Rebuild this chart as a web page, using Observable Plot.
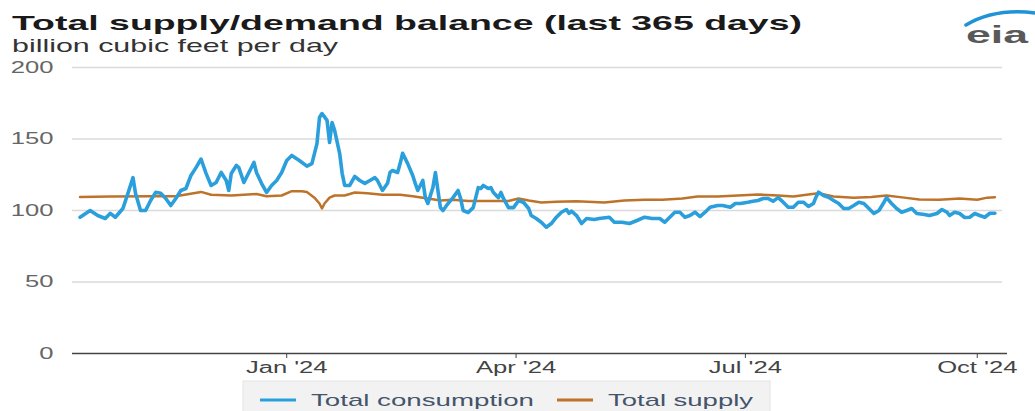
<!DOCTYPE html>
<html>
<head>
<meta charset="utf-8">
<script src="https://cdn.jsdelivr.net/npm/d3@7"></script>
<script src="https://cdn.jsdelivr.net/npm/@observablehq/plot@0.6"></script>
<style>
  body { margin: 0; background: #fff; font-family: "Liberation Sans", Arial, sans-serif; width: 1035px; height: 411px; overflow: hidden; }
  svg { display: block; }
</style>
</head>
<body>
<div id="chart"></div>
<script>
// ---------- data (days counted from 2024-01-01, negative = late 2023) ----------
const titleText = "Total supply/demand balance (last 365 days)";
const subtitleText = "billion cubic feet per day";
const seriesNames = ["Total consumption", "Total supply"];
const seriesColors = ["#2b9fdb", "#bd732a"];

const consumptionDay = [
  -82,-78,-75,-72,-70,-68,-65,-63,-61,-60,
  -58,-56,-54,-52,-50,-48,-46,-44,-42,-40,
  -38,-36,-34,-32,-30,-28,-26,-24,-23,-22,
  -20,-19,-17,-15,-13,-12,-10,-8,-6,-4,
  -2,0,2,5,8,10,12,13,14,16,
  17,18,19,21,22,23,25,27,29,31,
  33,35,36,38,40,41,42,44,45,46,
  48,50,51,52,54,55,56,58,59,60,
  61,62,64,66,68,69,70,72,74,76,
  77,78,80,81,82,84,85,86,88,90,
  92,94,96,97,99,101,103,105,107,109,
  111,112,113,115,117,119,122,124,128,130,
  133,136,139,142,145,148,150,152,154,156,
  158,160,162,164,166,168,171,173,176,178,
  180,183,185,187,189,191,193,195,197,199,
  201,203,205,207,209,210,211,213,215,217,
  219,221,223,225,227,229,231,233,235,237,
  238,240,242,244,246,248,250,253,255,258,
  260,262,263,265,267,269,271,273,275,277,
  279,281
];
const consumptionValue = [
  95.3,100,96.5,94.4,98,95.3,101.4,112,123,112,
  100,100,107,112.7,112,108.4,103.5,108.4,114,115.4,
  124.5,130,136,126,117.5,119.6,126.6,121,114,125.9,
  131.5,130,119.6,126.6,133.6,126.6,119,112.6,117.5,121,
  126.6,135,138.5,135,131,132.8,146.8,165,167.8,163,
  147.6,161.5,156,140,126,117.5,117.5,123.8,121,119,
  121,123,121,114,119,126.6,128,126.6,132.8,140,
  132.8,124.5,119,114,121,109,104.9,116,126.6,114,
  102,100,104.9,109,114,108.4,100,98.6,102,116,
  115.4,117.5,115.4,116,112.6,109,112.6,108.4,102,102,
  107,105.6,101.4,96.5,94.4,91.8,88.3,90.9,95.3,98.8,
  100.7,98,99.5,96.5,90.9,94.4,93.7,94.4,95.3,91.8,
  91.8,90.9,93,95.3,94.4,94.4,91.8,95.3,98.8,98.8,
  95.3,96.5,98.8,95.8,98.8,102.3,103.5,103.5,102.3,104.9,
  104.9,105.8,106.5,107,108.4,108.4,106.5,109,105.8,102.3,
  102.3,105.8,105.8,102.8,104.9,109.3,112.8,110.5,109.3,107,
  104.9,101.4,101.4,103.5,105.8,104.9,101.4,97.9,100,105.8,
  109,104.9,101.4,98.8,100,101.4,97.9,97.2,96.5,97.9,
  100.7,98.8,96.5,98.8,97.9,95.1,95.3,97.9,96.5,95.3,
  98.1,98.1
];

const supplyDay = [
  -82,-70,-54,-44,-34,-30,-22,-12,-8,-2,
  2,6,8,11,13,14,15,17,19,23,
  27,32,38,45,50,56,61,66,72,80,
  88,92,96,101,107,115,126,134,142,149,
  157,163,171,179,187,195,201,207,211,217,
  225,232,238,245,251,259,267,274,278,281
];
const supplyValue = [
  109.5,109.8,110,110,113,111,110.5,111.5,110,110.5,
  113.5,113.5,113,109,104.9,101.4,104.9,109,110.5,110.5,
  112.6,112,111,111,110,108.4,107,107.5,106.6,106.6,
  106.6,108.4,107,105.6,106.2,106.5,105.6,107,107.5,107.5,
  108.4,109.8,109.8,110.5,111.2,110.5,109.8,111.2,112,109.8,
  109,109.5,110.5,109,107.7,107.5,108.4,107.5,109,109.3
];

const xTickDates = ["2024-01-01", "2024-04-01", "2024-07-01", "2024-10-01"];
const xTickLabels = ["Jan '24", "Apr '24", "Jul '24", "Oct '24"];
const yTicks = [0, 50, 100, 150, 200];
const xDomainDays = [-85, 286];

// ---------- build ----------
const base = new Date(Date.UTC(2024, 0, 1));
const day = d => d3.utcDay.offset(base, d);
const consumption = consumptionDay.map((d, i) => ({date: day(d), value: consumptionValue[i]}));
const supply = supplyDay.map((d, i) => ({date: day(d), value: supplyValue[i]}));
const tickDates = xTickDates.map(s => new Date(s + "T00:00:00Z"));

const W = 1035;
const SX = 1.6; // horizontal text stretch seen in the reference
const root = document.getElementById("chart");

// header
const header = d3.create("svg").attr("width", W).attr("height", 60);
header.append("text").attr("x", 12).attr("y", 30)
  .attr("font-size", 21).attr("font-weight", "bold").attr("fill", "#1a1a1a")
  .attr("textLength", 790).attr("lengthAdjust", "spacingAndGlyphs").text(titleText);
header.append("text").attr("x", 12).attr("y", 52)
  .attr("font-size", 19).attr("fill", "#333")
  .attr("textLength", 326).attr("lengthAdjust", "spacingAndGlyphs").text(subtitleText);
// eia logo
header.append("path").attr("d", "M966,25 Q995,8 1035,13")
  .attr("fill", "none").attr("stroke", "#1f93d6").attr("stroke-width", 3.5).attr("stroke-linecap", "round");
header.append("text").attr("x", 966).attr("y", 43)
  .attr("font-size", 24).attr("font-weight", "bold").attr("fill", "#595959")
  .attr("textLength", 62).attr("lengthAdjust", "spacingAndGlyphs").text("eia");
root.append(header.node());

// plot
const chart = Plot.plot({
  width: W,
  height: 320,
  marginLeft: 72,
  marginRight: 28,
  marginTop: 7,
  marginBottom: 27,
  style: {fontFamily: "'Liberation Sans', Arial, sans-serif", fontSize: "16px", background: "#fff", overflow: "visible"},
  x: {type: "utc", domain: xDomainDays.map(day)},
  y: {domain: [0, 200]},
  marks: [
    Plot.ruleY(yTicks.filter(v => v > 0), {stroke: "#dadada", strokeWidth: 1.5, x1: day(xDomainDays[0]), x2: day(284)}),
    Plot.line(supply, {x: "date", y: "value", stroke: seriesColors[1], strokeWidth: 2.5}),
    Plot.line(consumption, {x: "date", y: "value", stroke: seriesColors[0], strokeWidth: 3.6}),
    Plot.ruleY([0], {stroke: "#444", strokeWidth: 1.5}),
    Plot.axisX(tickDates, {tickSize: 5, tickPadding: 3, tickFormat: (d, i) => xTickLabels[i], fill: "#444", stroke: "#444", fontSize: 16, label: null}),
    Plot.axisY(yTicks, {tickSize: 0, tickPadding: 19, fill: "#666", fontSize: 16, label: null})
  ]
});
// stretch axis text horizontally like the reference
chart.querySelectorAll('g[aria-label$="tick label"] text').forEach(t => {
  t.setAttribute("transform", (t.getAttribute("transform") || "") + ` scale(${SX},1)`);
});
root.append(chart);

// legend
const legend = d3.create("svg").attr("width", W).attr("height", 40);
legend.append("rect").attr("x", 243).attr("y", 1).attr("width", 527).attr("height", 45)
  .attr("fill", "#f2f2f2").attr("stroke", "#e3e3e3");
const items = [
  {x1: 260, x2: 296, tx: 311, len: 223},
  {x1: 557, x2: 593, tx: 608, len: 145}
];
items.forEach((it, i) => {
  legend.append("line").attr("x1", it.x1).attr("x2", it.x2).attr("y1", 20).attr("y2", 20)
    .attr("stroke", seriesColors[i]).attr("stroke-width", 3);
  legend.append("text").attr("x", it.tx).attr("y", 26).attr("font-size", 17).attr("fill", "#44546a")
    .attr("textLength", it.len).attr("lengthAdjust", "spacingAndGlyphs").text(seriesNames[i]);
});
root.append(legend.node());
</script>
</body>
</html>
